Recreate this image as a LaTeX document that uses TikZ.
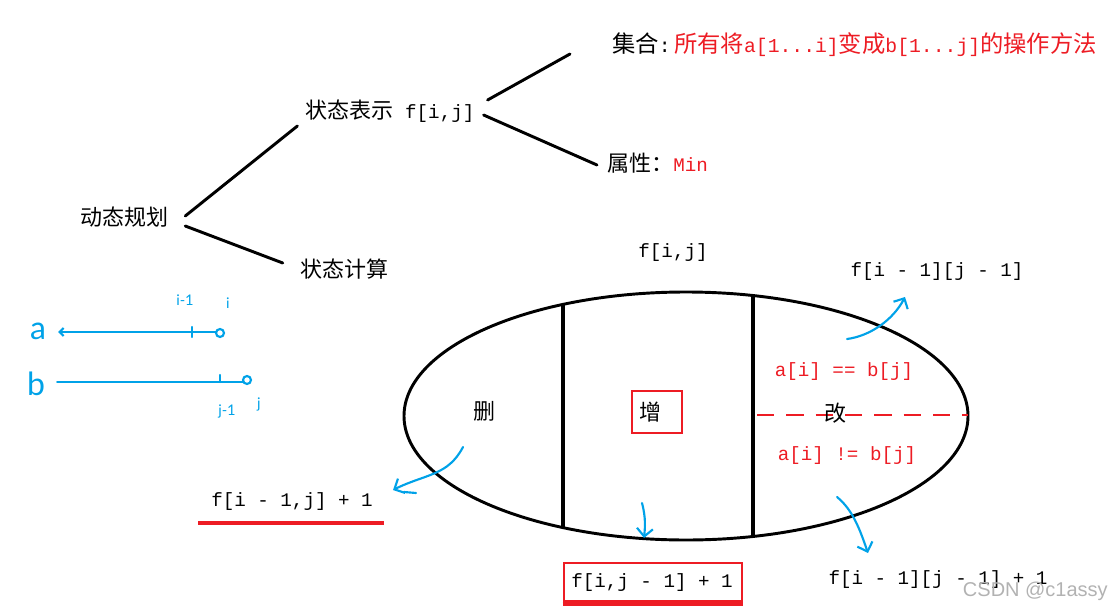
\documentclass[tikz,border=0pt]{standalone}
\usepackage{fontspec}
\setmainfont{Liberation Mono}
\newfontfamily\cjk{Noto Sans CJK SC}
\newfontfamily\hw{Lato}
\newfontfamily\wm{Liberation Sans}
\usetikzlibrary{arrows.meta,shapes.geometric}
\definecolor{myred}{RGB}{237,28,36}
\definecolor{myblue}{RGB}{0,162,232}
\newcommand\zh[1]{{\fontsize{16.5}{19}\cjk #1}}
\newcommand\zhb[1]{{\fontsize{17.5}{20}\cjk #1}}
\begin{document}
\begin{tikzpicture}[x=0.75pt,y=-0.75pt,
  txt/.style={inner sep=0pt, font=\fontsize{14.4}{17}\selectfont},
  txtb/.style={inner sep=0pt, font=\fontsize{14.8}{18}\selectfont},
  conn/.style={line width=2.2pt, line cap=round},
  bl/.style={myblue, line width=1.6pt, line cap=round},
  blarrow/.style={bl, -{Straight Barb[length=6pt,width=12pt,line width=1.6pt]}},
  redbox/.style={draw=myred, line width=2.2pt},
  hand/.style={inner sep=0pt, text=myblue, font=\hw\fontsize{11}{12}\selectfont}]
\useasboundingbox (0,0) rectangle (1113,610);

% tree
\node[txt] (dp) at (124,217) {\zh{动态规划}};
\node[txt] (st) at (390,111) {\zh{状态表示} f[i,j]};
\node[txtb, anchor=west] (jh) at (612,45) {\zhb{集合}:\,\textcolor{myred}{\zhb{所有将}a[1...i]\zhb{变成}b[1...j]\zhb{的操作方法}}};
\node[txt, anchor=west] (sx) at (607,163) {\zh{属性：}\textcolor{myred}{Min}};
\node[txt] (sj) at (344,269) {\zh{状态计算}};

\draw[conn] ([shift={(17,-1)}]dp.east) -- ([shift={(-8,15)}]st.west);
\draw[conn] ([shift={(17,9)}]dp.east) -- ([shift={(-17,-6)}]sj.west);
\draw[conn] ([shift={(13,-11)}]st.east) -- ([shift={(-42,9)}]jh.west);
\draw[conn] ([shift={(9,4)}]st.east) -- ([shift={(-10,2)}]sx.west);

% ellipse
\node[draw, ellipse, line width=2.2pt, inner sep=0pt, minimum width=423pt, minimum height=186pt] (ell) at (686,416) {};
\begin{scope}
  \clip (686,416) ellipse [x radius=282, y radius=124];
  \draw[line width=2.4pt] (563,280) -- (563,560);
  \draw[line width=2.4pt] (753,280) -- (753,560);
  \draw[myred, line width=1.6pt, dash pattern=on 13pt off 9pt] (757,415) -- (968,415);
\end{scope}

\node[txt] (fij) at (673,253) {f[i,j]};
\node[txt] (del) at (484,411) {\zh{删}};
\node[txt] (add) at (650,412) {\zh{增}};
\node[redbox, minimum width=37.5pt, minimum height=31.5pt, inner sep=0pt] (addbox) at (657,412) {};
\node[txt] (chg) at (835,413) {\zh{改}};
\node[txt, text=myred] (eq) at (844,372) {a[i] == b[j]};
\node[txt, text=myred] (ne) at (847,456) {a[i] != b[j]};
\node[txt] (fd) at (937,272) {f[i - 1][j - 1]};

% results
\node[txt] (rdel) at (292,502) {f[i - 1,j] + 1};
\draw[myred, line width=2.4pt] ([shift={(-94,21)}]rdel.center) -- ([shift={(92,21)}]rdel.center);
\node[txt] (radd) at (652,583) {f[i,j - 1] + 1};
\node[redbox, minimum width=133.5pt, minimum height=28.5pt, inner sep=0pt] (raddbox) at (653,582) {};
\draw[myred, line width=3pt] ([shift={(0,2)}]raddbox.south west) -- ([shift={(0,2)}]raddbox.south east);
\node[txt] (rchg) at (938,580) {f[i - 1][j - 1] + 1};

% blue arrows
\draw[blarrow] (463,447) .. controls (448,476) and (425,474) .. (393,490);
\draw[bl] (416,493) -- (404,492);
\draw[blarrow] (642,503) .. controls (646,518) and (645,528) .. (644,538);
\draw[blarrow] (837,497) .. controls (853,510) and (860,530) .. (868,553);
\draw[blarrow] (847,339) .. controls (870,336) and (893,320) .. (905,297);

% hand-drawn a / b
\node[inner sep=0pt, text=myblue, font=\hw\fontsize{24}{26}\selectfont] (la) at (38,331) {a};
\node[inner sep=0pt, text=myblue, font=\hw\fontsize{24}{26}\selectfont] (lb) at (36,384) {b};
\coordinate (aend) at (216,332);
\coordinate (bend) at (243,382);
\draw[bl, {Straight Barb[length=3pt,width=6pt]}-] ([shift={(12,1)}]la.east) -- (aend);
\draw[bl] (aend) ++(4,1) circle [radius=4];
\draw[bl] (192,327) -- (192,337);
\draw[bl] ([shift={(12,-2)}]lb.east) -- (bend);
\draw[bl] (bend) ++(4,-2) circle [radius=4];
\draw[bl] (220,375) -- (220,382);
\node[hand] (i1) at (185,300) {i-1};
\node[hand] (i0) at (228,303) {i};
\node[hand] (j1) at (227,411) {j-1};
\node[hand] (j0) at (259,404) {j};

% watermark
\node[inner sep=0pt, anchor=east, text=black!30, font=\wm\fontsize{15}{17}\selectfont] (wmk) at (1108,591) {CSDN @c1assy};
\end{tikzpicture}
\end{document}
